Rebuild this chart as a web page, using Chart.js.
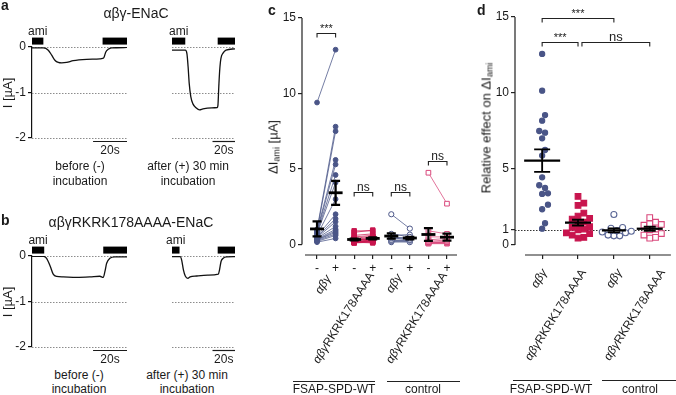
<!DOCTYPE html>
<html>
<head>
<meta charset="utf-8">
<title>ENaC / FSAP</title>
<script src="https://cdn.jsdelivr.net/npm/chart.js@4.4.1/dist/chart.umd.min.js"></script>
<style>
  html, body { margin: 0; padding: 0; background: #fff; }
  #fig { position: relative; width: 676px; height: 395px; overflow: hidden;
         font-family: "Liberation Sans", Arial, sans-serif; color: #1a1a1a; }
  #fig canvas { position: absolute; }
  .t { position: absolute; white-space: nowrap; line-height: 1; }
  .t sub { font-size: 0.7em; vertical-align: -0.25em; line-height: 0; }
  .rule { position: absolute; height: 0; border-top: 1px solid #222; }
</style>
</head>
<body>
<div id="fig">
  <canvas id="a1" width="130" height="158" style="left:0;top:0"></canvas>
  <canvas id="a2" width="100" height="158" style="left:138px;top:0"></canvas>
  <canvas id="b1" width="130" height="158" style="left:0;top:209px"></canvas>
  <canvas id="b2" width="100" height="158" style="left:138px;top:209px"></canvas>
  <canvas id="c" width="215" height="278" style="left:250px;top:0"></canvas>
  <canvas id="d" width="206" height="278" style="left:470px;top:0"></canvas>
</div>
<script>
// ---- panel a/b: current traces (time in s, current in µA)
const traceTicks = [0, -1, -2];

const aBeforeT = [0, 6.7, 9.6, 11.6, 13.5, 15.5, 17.5, 20.4, 24.3, 32.2, 40, 41.6, 42.4, 43.5, 44.9, 46.9, 56];
const aBeforeI = [-0.02, -0.02, -0.07, -0.18, -0.29, -0.34, -0.35, -0.34, -0.30, -0.27, -0.26, -0.25, -0.23, -0.11, -0.05, -0.02, -0.01];
const aAfterT = [0, 11.8, 13.3, 14.3, 15.3, 16.7, 18.6, 21.6, 24.5, 27.5, 35.3, 40.2, 40.8, 41.6, 42.4, 43.5, 45.5, 48, 56];
const aAfterI = [-0.07, -0.07, -0.15, -0.43, -0.8, -1.09, -1.25, -1.34, -1.38, -1.36, -1.34, -1.33, -1.29, -0.87, -0.51, -0.25, -0.13, -0.07, -0.04];
const bBeforeT = [0, 6.8, 8.6, 10.8, 12.5, 14.5, 18.4, 26.3, 34.1, 40, 42, 43, 44, 45.9, 48.8, 56];
const bBeforeI = [-0.01, -0.01, -0.05, -0.23, -0.40, -0.45, -0.46, -0.47, -0.46, -0.445, -0.47, -0.34, -0.16, -0.05, -0.02, -0.02];
const bAfterT = [0, 7.3, 8.6, 10.2, 11.8, 14.1, 16.1, 22, 31.8, 41.2, 42.2, 43.6, 45.5, 48.5, 56];
const bAfterI = [-0.015, -0.015, -0.09, -0.31, -0.44, -0.49, -0.46, -0.44, -0.42, -0.40, -0.31, -0.12, -0.05, -0.02, -0.015];

// amiloride application windows (start, end in s)
const aBeforeAmi = [[0, 6.7], [41.6, 56]];
const aAfterAmi = [[0, 11.8], [40.6, 56]];
const bBeforeAmi = [[0, 7.2], [42, 56]];
const bAfterAmi = [[0, 6.7], [40.6, 56]];

// ---- panel c: ΔIami (µA) before (-) / after (+) incubation, paired
const cTickLabels = ['-', '+', '-', '+', '-', '+', '-', '+'];
const cYTicks = [0, 5, 10, 15];
const cWtMinus = [9.4, 1.0, 0.9, 0.9, 0.8, 0.75, 0.7, 0.6, 0.55, 0.5, 0.45, 0.4, 0.35, 0.3, 0.3, 0.25, 0.2, 0.15];
const cWtPlus = [12.9, 7.8, 7.5, 5.6, 5.3, 4.6, 4.1, 3.0, 2.0, 1.7, 1.5, 1.2, 1.0, 0.9, 0.8, 0.7, 0.6, 0.4];
const cMutMinus = [0.9, 0.8, 0.6, 0.5, 0.4, 0.35, 0.3, 0.3, 0.25, 0.25, 0.2, 0.2, 0.2, 0.15, 0.15, 0.15, 0.1, 0.1];
const cMutPlus = [0.9, 0.95, 0.7, 0.6, 0.55, 0.3, 0.5, 0.35, 0.2, 0.45, 0.25, 0.3, 0.15, 0.25, 0.2, 0.1, 0.3, 0.15];
const cCtrlWtMinus = [2.0, 0.7, 0.6, 0.5, 0.45, 0.4, 0.3, 0.25, 0.2, 0.15];
const cCtrlWtPlus = [1.05, 0.5, 0.65, 0.4, 0.3, 0.45, 0.25, 0.3, 0.15, 0.2];
const cCtrlMutMinus = [4.75, 0.9, 0.5, 0.3, 0.2, 0.15, 0.1, 0.1, 0.1, 0.1, 0.05];
const cCtrlMutPlus = [2.7, 0.7, 0.5, 0.4, 0.3, 0.2, 0.15, 0.1, 0.1, 0.1, 0.05];

// ---- panel d: relative effect on ΔIami
const dYTicks = [0, 1, 5, 10, 15];
const dWt = [12.57, 10.15, 8.55, 8.18, 7.5, 7.39, 7.02, 6.25, 5.88, 4.45, 3.93, 3.75, 3.4, 3.36, 2.65, 2.35, 1.43, 1.07];
const dMut = [3.2, 2.75, 2.6, 2.1, 1.9, 1.75, 1.7, 1.5, 1.4, 1.2, 1.15, 1.05, 1.0, 0.8, 0.75, 0.65, 0.5, 0.45];
const dCtrlWt = [2.0, 1.15, 1.1, 0.95, 0.9, 0.85, 0.8, 0.65, 0.6, 0.6];
const dCtrlMut = [1.8, 1.5, 1.4, 1.35, 1.3, 1.05, 1.0, 0.75, 0.65, 0.5, 0.45];

const FONT = '"Liberation Sans", Arial, sans-serif';
const NAVY = '#4a5587';
const CRIMSON = '#c8154e';
const PINK = '#d9487c';
const AMI_LEVEL = 0.13;

Chart.defaults.font.family = FONT;
Chart.defaults.font.size = 12;
Chart.defaults.color = '#1a1a1a';

const traceDecor = {
  id: 'traceDecor',
  beforeDatasetsDraw(chart) {
    const { ctx, chartArea: a, scales: { y } } = chart;
    ctx.save();
    ctx.strokeStyle = '#8c8c8c';
    ctx.lineWidth = 1;
    ctx.setLineDash([1.5, 1.5]);
    traceTicks.forEach(v => {
      const py = Math.round(y.getPixelForValue(v)) + 0.5;
      ctx.beginPath(); ctx.moveTo(a.left, py); ctx.lineTo(a.right, py); ctx.stroke();
    });
    ctx.restore();
  },
  afterDatasetsDraw(chart) {
    const { ctx, chartArea: a, scales: { x, y } } = chart;
    const bar = chart.data.datasets[1].data;
    const cx = (x.getPixelForValue(bar[0].x) + x.getPixelForValue(bar[1].x)) / 2;
    ctx.save();
    ctx.fillStyle = '#1a1a1a';
    ctx.font = '12px ' + FONT;
    ctx.textAlign = 'center';
    ctx.textBaseline = 'middle';
    ctx.fillText('ami', cx, y.getPixelForValue(AMI_LEVEL) - 9);
    // 20 s scale bar
    const x1 = x.getPixelForValue(x.max - 20), x2 = x.getPixelForValue(x.max);
    const py = a.bottom + 3.5;
    ctx.strokeStyle = '#1a1a1a';
    ctx.lineWidth = 1.2;
    ctx.beginPath(); ctx.moveTo(x1, py); ctx.lineTo(x2, py); ctx.stroke();
    ctx.textBaseline = 'top';
    ctx.fillText('20s', (x1 + x2) / 2, py + 3);
    ctx.restore();
  }
};

function traceChart(id, t, cur, ami, withAxis) {
  const sets = [{
    data: t.map((x, i) => ({ x, y: cur[i] })),
    borderColor: '#111', borderWidth: 1.3, pointRadius: 0, cubicInterpolationMode: 'monotone'
  }];
  ami.forEach(([s, e]) => sets.push({
    data: [{ x: s, y: AMI_LEVEL }, { x: e, y: AMI_LEVEL }],
    borderColor: '#000', borderWidth: 7, borderCapStyle: 'butt', pointRadius: 0, clip: false
  }));
  return new Chart(document.getElementById(id), {
    type: 'line',
    data: { datasets: sets },
    options: {
      responsive: false, animation: false, events: [],
      layout: { padding: { top: 47, bottom: 20, left: withAxis ? 0 : 2, right: 3 } },
      plugins: { legend: { display: false }, tooltip: { enabled: false } },
      scales: {
        x: { type: 'linear', display: false, min: 0, max: 56 },
        y: {
          display: withAxis, min: -2, max: 0,
          afterBuildTicks: s => { s.ticks = traceTicks.map(v => ({ value: v })); },
          afterFit: s => { s.width = 32; },
          border: { display: true, color: '#111', width: 1.2 },
          grid: { drawOnChartArea: false, drawTicks: true, tickLength: 4, color: '#111', lineWidth: 1.2 },
          ticks: { padding: 2, callback: v => String(v) }
        }
      }
    },
    plugins: [traceDecor]
  });
}

traceChart('a1', aBeforeT, aBeforeI, aBeforeAmi, true);
traceChart('a2', aAfterT, aAfterI, aAfterAmi, false);
traceChart('b1', bBeforeT, bBeforeI, bBeforeAmi, true);
traceChart('b2', bAfterT, bAfterI, bAfterAmi, false);

// ---- shared helpers for c and d
function meanSem(v) {
  const n = v.length, m = v.reduce((s, x) => s + x, 0) / n;
  const sd = Math.sqrt(v.reduce((s, x) => s + (x - m) ** 2, 0) / (n - 1));
  return [m, sd / Math.sqrt(n)];
}

function drawStats(ctx, xs, ys, x, vals, mw, cw, lw) {
  const [m, se] = meanSem(vals);
  const px = xs.getPixelForValue(x);
  const pm = ys.getPixelForValue(m), hi = ys.getPixelForValue(m + se), lo = ys.getPixelForValue(m - se);
  ctx.save();
  ctx.strokeStyle = '#000';
  ctx.lineWidth = lw * 0.8;
  ctx.beginPath();
  ctx.moveTo(px, hi); ctx.lineTo(px, lo);
  ctx.moveTo(px - cw, hi); ctx.lineTo(px + cw, hi);
  ctx.moveTo(px - cw, lo); ctx.lineTo(px + cw, lo);
  ctx.stroke();
  ctx.lineWidth = lw;
  ctx.beginPath(); ctx.moveTo(px - mw, pm); ctx.lineTo(px + mw, pm); ctx.stroke();
  ctx.restore();
}

function drawBracket(ctx, xs, ys, [x1, x2, yv, label, size]) {
  const p1 = xs.getPixelForValue(x1), p2 = xs.getPixelForValue(x2);
  const py = Math.round(ys.getPixelForValue(yv)) + 0.5;
  ctx.save();
  ctx.strokeStyle = '#222';
  ctx.lineWidth = 1.1;
  ctx.beginPath();
  ctx.moveTo(p1, py + 4); ctx.lineTo(p1, py); ctx.lineTo(p2, py); ctx.lineTo(p2, py + 4);
  ctx.stroke();
  ctx.fillStyle = '#222';
  ctx.font = size + 'px ' + FONT;
  ctx.textAlign = 'center';
  ctx.textBaseline = 'alphabetic';
  ctx.fillText(label, (p1 + p2) / 2, py - 2);
  ctx.restore();
}

function drawAxes(chart, xGap) {
  const { ctx, chartArea: a, scales: { y } } = chart;
  ctx.save();
  ctx.strokeStyle = '#222';
  ctx.lineWidth = 1.2;
  ctx.beginPath();
  ctx.moveTo(a.left, y.getPixelForValue(y.max)); ctx.lineTo(a.left, y.getPixelForValue(0));
  ctx.moveTo(a.left + xGap, a.bottom); ctx.lineTo(a.right, a.bottom);
  ctx.stroke();
  ctx.restore();
}

function axisOpts(ticks, min, max, size, labels) {
  return {
    type: 'linear', min, max,
    afterBuildTicks: s => { s.ticks = ticks.map(v => ({ value: v })); },
    afterFit: s => { if (s.isHorizontal()) s.height = size; else s.width = size; },
    border: { display: false },
    grid: { drawOnChartArea: false, drawTicks: true, tickLength: 4, color: '#222', lineWidth: 1.2 },
    ticks: { padding: 2, autoSkip: false, maxRotation: 0, callback: (v, i) => labels ? labels[i] : String(v) }
  };
}

// ---- panel c
const cGroups = [
  { minus: cWtMinus, plus: cWtPlus, color: NAVY, line: 'rgba(74,85,135,0.85)', style: 'circle', r: 2.4, fill: true },
  { minus: cMutMinus, plus: cMutPlus, color: CRIMSON, line: 'rgba(200,21,78,0.8)', style: 'rect', r: 3.2, fill: true },
  { minus: cCtrlWtMinus, plus: cCtrlWtPlus, color: NAVY, line: 'rgba(74,85,135,0.85)', style: 'circle', r: 2.6, fill: false },
  { minus: cCtrlMutMinus, plus: cCtrlMutPlus, color: PINK, line: 'rgba(217,72,124,0.85)', style: 'rect', r: 3.3, fill: false }
];
const cBrackets = [[1, 2, 14.0, '***', 11], [3, 4, 3.45, 'ns', 12], [5, 6, 3.45, 'ns', 12], [7, 8, 5.5, 'ns', 12]];

const cSets = [];
cGroups.forEach((g, gi) => {
  g.minus.forEach((m, i) => {
    cSets.push({
      data: [{ x: 2 * gi + 1, y: m }, { x: 2 * gi + 2, y: g.plus[i] }],
      borderColor: g.line, borderWidth: 0.9,
      pointStyle: g.style, pointRadius: g.r, pointBorderWidth: 1,
      pointBackgroundColor: g.fill ? g.color : '#fff', pointBorderColor: g.color
    });
  });
});

const cDecor = {
  id: 'cDecor',
  afterDatasetsDraw(chart) {
    const { ctx, scales: { x, y } } = chart;
    cGroups.forEach((g, gi) => {
      drawStats(ctx, x, y, 2 * gi + 1, g.minus, 7, 4.5, 2.8);
      drawStats(ctx, x, y, 2 * gi + 2, g.plus, 7, 4.5, 2.8);
    });
  },
  afterDraw(chart) {
    drawAxes(chart, 3);
    cBrackets.forEach(b => drawBracket(chart.ctx, chart.scales.x, chart.scales.y, b));
  }
};

new Chart(document.getElementById('c'), {
  type: 'line',
  data: { datasets: cSets },
  options: {
    responsive: false, animation: false, events: [],
    layout: { padding: { top: 18, right: 8, left: 0, bottom: 0 } },
    plugins: { legend: { display: false }, tooltip: { enabled: false } },
    scales: {
      x: axisOpts([1, 2, 3, 4, 5, 6, 7, 8], 0.19, 8.54, 23, cTickLabels),
      y: axisOpts(cYTicks, -0.7, 15, 52)
    }
  },
  plugins: [cDecor]
});

// ---- panel d
function swarm(vals, xc, pxX, pxY, d) {
  const order = vals.map((v, i) => i).sort((a, b) => vals[a] - vals[b]);
  const placed = [], pts = [];
  order.forEach(i => {
    const py = vals[i] * pxY;
    for (let k = 0; k < 40; k++) {
      const off = k === 0 ? 0 : (k % 2 ? 1 : -1) * Math.ceil(k / 2) * d * 0.5;
      if (placed.every(p => Math.hypot(p[0] - off, p[1] - py) >= d)) {
        placed.push([off, py]);
        pts.push({ x: xc + off / pxX, y: vals[i] });
        break;
      }
    }
  });
  return pts;
}

const dGroups = [
  { vals: dWt, color: NAVY, style: 'circle', r: 2.6, fill: true, mw: 18, cw: 8 },
  { vals: dMut, color: CRIMSON, style: 'rect', r: 4.0, fill: true, mw: 13, cw: 6 },
  { vals: dCtrlWt, color: '#5b6796', style: 'circle', r: 3.0, fill: false, mw: 12, cw: 6 },
  { vals: dCtrlMut, color: PINK, style: 'rect', r: 4.0, fill: false, mw: 13, cw: 6 }
];
const dBrackets = [[1, 3, 14.93, '***', 11], [1, 2, 13.36, '***', 11], [2.11, 4, 13.36, 'ns', 13]];

const dDecor = {
  id: 'dDecor',
  beforeDatasetsDraw(chart) {
    const { ctx, chartArea: a, scales: { y } } = chart;
    const py = Math.round(y.getPixelForValue(1)) + 0.5;
    ctx.save();
    ctx.strokeStyle = '#333';
    ctx.lineWidth = 1;
    ctx.setLineDash([1.5, 1.5]);
    ctx.beginPath(); ctx.moveTo(a.left, py); ctx.lineTo(a.right, py); ctx.stroke();
    ctx.restore();
  },
  afterDatasetsDraw(chart) {
    const { ctx, scales: { x, y } } = chart;
    dGroups.forEach((g, gi) => drawStats(ctx, x, y, gi + 1, g.vals, g.mw, g.cw, 2.3));
  },
  afterDraw(chart) {
    drawAxes(chart, 10);
    dBrackets.forEach(b => drawBracket(chart.ctx, chart.scales.x, chart.scales.y, b));
  }
};

new Chart(document.getElementById('d'), {
  type: 'scatter',
  data: {
    datasets: dGroups.map((g, gi) => ({
      data: swarm(g.vals, gi + 1, 37, 15.2, 6),
      pointStyle: g.style, pointRadius: g.r, pointBorderWidth: 1.1,
      pointBackgroundColor: g.fill ? g.color : '#fff', pointBorderColor: g.color
    }))
  },
  options: {
    responsive: false, animation: false, events: [],
    layout: { padding: { top: 17, right: 0, left: 0, bottom: 0 } },
    plugins: { legend: { display: false }, tooltip: { enabled: false } },
    scales: {
      x: axisOpts([1, 2, 3, 4], 0.243, 4.59, 23, ['', '', '', '']),
      y: axisOpts(dYTicks, -0.66, 15, 45)
    }
  },
  plugins: [dDecor]
});

// ---- text and annotation lines
const fig = document.getElementById('fig');
function put(html, x, y, size, opt = {}) {
  const el = document.createElement('div');
  el.className = 't';
  el.innerHTML = html;
  el.style.left = x + 'px';
  el.style.top = y + 'px';
  el.style.fontSize = size + 'px';
  if (opt.bold) el.style.fontWeight = 'bold';
  el.style.transform = opt.tf || 'translate(-50%,-50%)';
  if (opt.origin) el.style.transformOrigin = opt.origin;
  fig.appendChild(el);
}
function rule(x, y, w) {
  const el = document.createElement('div');
  el.className = 'rule';
  el.style.left = x + 'px'; el.style.top = y + 'px'; el.style.width = w + 'px';
  fig.appendChild(el);
}

const corner = { bold: true, tf: 'none' };
put('a', 1, -2, 14, corner);
put('b', 1, 213, 14, corner);
put('c', 268, 3, 14, corner);
put('d', 477, 3, 14, corner);

put('αβγ-ENaC', 136, 13, 14);
put('αβγRKRK178AAAA-ENaC', 131, 222, 14);
put('before (-)', 80, 166, 12);
put('incubation', 80, 181, 12);
put('after (+) 30 min', 188, 166, 12);
put('incubation', 188, 181, 12);
put('before (-)', 79, 375, 12);
put('incubation', 79, 389, 12);
put('after (+) 30 min', 187, 375, 12);
put('incubation', 187, 389, 12);

const vert = { tf: 'translate(-50%,-50%) rotate(-90deg)' };
put('I [µA]', 7, 93, 13, vert);
put('I [µA]', 7, 302, 13, vert);
put('ΔI<sub>ami</sub> [µA]', 273, 147, 13, vert);
put('Relative effect on ΔI<sub>ami</sub>', 486, 128, 13, vert);

const slant = { tf: 'translate(-100%,-50%) rotate(-58deg)', origin: '100% 50%' };
const wt = '<i>αβγ</i>', mut = '<i>αβγ</i>RKRK178AAAA';
put(wt, 328, 276, 12, slant);
put(mut, 371, 273, 12, slant);
put(wt, 399, 275, 12, slant);
put(mut, 444, 273, 12, slant);
put(wt, 544, 270, 12, slant);
put(mut, 583, 270, 12, slant);
put(wt, 619, 270, 12, slant);
put(mut, 662, 270, 12, slant);

rule(293, 381, 82); put('FSAP-SPD-WT', 334, 389, 12);
rule(387, 381, 73); put('control', 423, 389, 12);
rule(513, 380, 77); put('FSAP-SPD-WT', 551, 389, 12);
rule(602, 380, 74); put('control', 640, 389, 12);
</script>
</body>
